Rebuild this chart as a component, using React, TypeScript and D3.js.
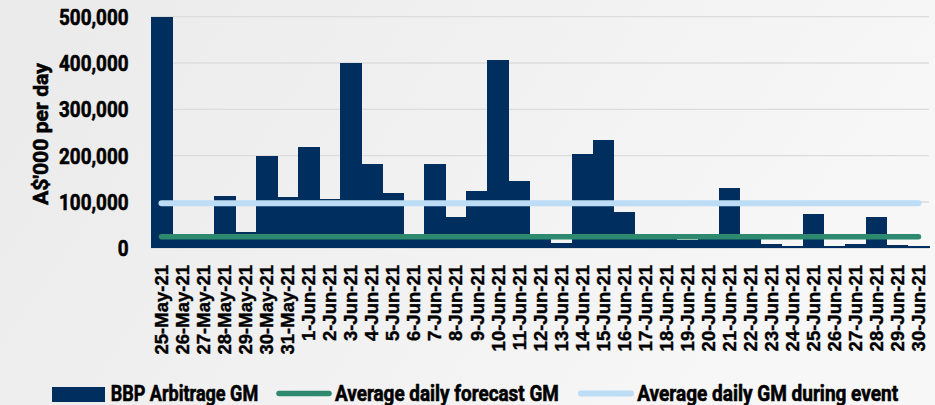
import React, { useEffect, useRef } from "react";
import * as d3 from "d3";

// Daily categories, 25 May – 30 Jun 2021
const dates: string[] = [
  "25-May-21", "26-May-21", "27-May-21", "28-May-21", "29-May-21", "30-May-21", "31-May-21",
  "1-Jun-21", "2-Jun-21", "3-Jun-21", "4-Jun-21", "5-Jun-21", "6-Jun-21", "7-Jun-21",
  "8-Jun-21", "9-Jun-21", "10-Jun-21", "11-Jun-21", "12-Jun-21", "13-Jun-21", "14-Jun-21",
  "15-Jun-21", "16-Jun-21", "17-Jun-21", "18-Jun-21", "19-Jun-21", "20-Jun-21", "21-Jun-21",
  "22-Jun-21", "23-Jun-21", "24-Jun-21", "25-Jun-21", "26-Jun-21", "27-Jun-21", "28-Jun-21",
  "29-Jun-21", "30-Jun-21",
];

// BBP arbitrage gross margin, A$'000 per day
const arbitrageGM: number[] = [
  500000, 22000, 24000, 112000, 35000, 200000, 111000,
  219000, 107000, 400000, 181000, 120000, 30000, 181000,
  68000, 124000, 406000, 145000, 30000, 11000, 204000,
  233000, 78000, 22000, 24000, 17000, 26000, 131000,
  24000, 9000, 4000, 73000, 4000, 10000, 68000,
  8000, 6000,
];

const avgForecastGM = 25000;
const avgEventGM = 97000;

const yTicks: number[] = [0, 100000, 200000, 300000, 400000, 500000];

const legendLabels: string[] = [
  "BBP Arbitrage GM",
  "Average daily forecast GM",
  "Average daily GM during event",
];

const NAVY = "#002f5f";
const GREEN = "#2d8a6f";
const LIGHT_BLUE = "#bddcf5";
const W = 935;
const H = 405;
const CONDENSED = "Roboto, 'Liberation Sans', sans-serif";

export default function App() {
  const ref = useRef<SVGSVGElement | null>(null);

  useEffect(() => {
    const svg = d3.select(ref.current);
    svg.selectAll("*").remove();

    const defs = svg.append("defs");
    const grad = defs
      .append("linearGradient")
      .attr("id", "bg")
      .attr("x1", "0").attr("y1", "0").attr("x2", "1").attr("y2", "0.3");
    grad.append("stop").attr("offset", "0").attr("stop-color", "#eaeaea");
    grad.append("stop").attr("offset", "1").attr("stop-color", "#f7f7f7");
    svg.append("rect").attr("width", W).attr("height", H).attr("fill", "url(#bg)");

    const x = d3.scaleBand<string>().domain(dates).range([151, 929]).padding(0);
    const y = d3.scaleLinear().domain([0, 500000]).range([248.3, 16.7]);

    // gridlines
    svg
      .append("g")
      .selectAll("line")
      .data(yTicks)
      .join("line")
      .attr("x1", 151)
      .attr("x2", 929)
      .attr("y1", (d) => y(d))
      .attr("y2", (d) => y(d))
      .attr("stroke", "#dcdcdc")
      .attr("stroke-width", 1.3);

    // y tick labels (condensed)
    const fmt = d3.format(",");
    const tickTexts = svg
      .append("g")
      .selectAll("text")
      .data(yTicks)
      .join("text")
      .attr("text-anchor", "end")
      .attr("font-family", CONDENSED)
      .attr("font-weight", 700)
      .attr("font-size", 22)
      .attr("fill", "#000")
      .attr("stroke", "#000")
      .attr("stroke-width", 0.6)
      .text((d) => fmt(d));
    const ref500 = (tickTexts.nodes()[5] as SVGTextElement).getComputedTextLength();
    const kTick = 69.5 / ref500;
    tickTexts.attr(
      "transform",
      (d) => `translate(128.5,${y(d) + 8}) scale(${kTick},1)`
    );

    // y axis title
    const title = svg
      .append("text")
      .attr("text-anchor", "middle")
      .attr("font-family", CONDENSED)
      .attr("font-weight", 700)
      .attr("font-size", 21)
      .attr("fill", "#000")
      .attr("stroke", "#000")
      .attr("stroke-width", 0.6)
      .text("A$'000 per day");
    const tLen = (title.node() as SVGTextElement).getComputedTextLength();
    title.attr("transform", `translate(48,134) rotate(-90) scale(${142 / tLen},1)`);

    // bars
    svg
      .append("g")
      .attr("shape-rendering", "crispEdges")
      .selectAll("rect")
      .data(arbitrageGM)
      .join("rect")
      .attr("x", (_, i) => x(dates[i]) as number)
      .attr("width", x.bandwidth() + 0.5)
      .attr("y", (d) => y(d))
      .attr("height", (d) => y(0) - y(d))
      .attr("fill", NAVY);

    // average lines
    const x0 = (x(dates[0]) as number) + x.bandwidth() / 2;
    const x1 = (x(dates[dates.length - 1]) as number) + x.bandwidth() / 2;
    const avgLine = d3.line<[number, number]>();
    svg
      .append("path")
      .attr("d", avgLine([[x0, y(avgForecastGM)], [x1, y(avgForecastGM)]]))
      .attr("stroke", GREEN)
      .attr("stroke-width", 5.5)
      .attr("stroke-linecap", "round")
      .attr("fill", "none");
    svg
      .append("path")
      .attr("d", avgLine([[x0, y(avgEventGM)], [x1, y(avgEventGM)]]))
      .attr("stroke", LIGHT_BLUE)
      .attr("stroke-width", 6)
      .attr("stroke-linecap", "round")
      .attr("fill", "none");

    // x labels
    svg
      .append("g")
      .selectAll("text")
      .data(dates)
      .join("text")
      .attr("text-anchor", "end")
      .attr("font-family", "'Liberation Sans', Arial, sans-serif")
      .attr("font-weight", 700)
      .attr("font-size", 18.5)
      .attr("fill", "#000")
      .attr("stroke", "#000")
      .attr("stroke-width", 0.4)
      .attr(
        "transform",
        (d) => `translate(${(x(d) as number) + x.bandwidth() / 2 + 6.6},265) rotate(-90)`
      )
      .text((d) => d);

    // legend
    const lg = svg.append("g");
    lg.append("rect").attr("x", 52).attr("y", 387).attr("width", 53).attr("height", 15).attr("fill", NAVY);
    lg.append("line")
      .attr("x1", 279).attr("x2", 329).attr("y1", 393.5).attr("y2", 393.5)
      .attr("stroke", GREEN).attr("stroke-width", 5.5).attr("stroke-linecap", "round");
    lg.append("line")
      .attr("x1", 581).attr("x2", 631).attr("y1", 393.5).attr("y2", 393.5)
      .attr("stroke", LIGHT_BLUE).attr("stroke-width", 6).attr("stroke-linecap", "round");
    const legendX = [110.7, 335, 637.3];
    const legendW = [147.6, 224, 261];
    legendLabels.forEach((label, i) => {
      const t = lg
        .append("text")
        .attr("font-family", CONDENSED)
        .attr("font-weight", 700)
        .attr("font-size", 22)
        .attr("fill", "#000")
        .attr("stroke", "#000")
        .attr("stroke-width", 0.6)
        .text(label);
      const len = (t.node() as SVGTextElement).getComputedTextLength();
      t.attr("transform", `translate(${legendX[i]},401) scale(${legendW[i] / len},1)`);
    });
  }, []);

  return (
    <svg
      ref={ref}
      width={W}
      height={H}
      style={{ position: "absolute", left: 0, top: 0, display: "block" }}
    />
  );
}
